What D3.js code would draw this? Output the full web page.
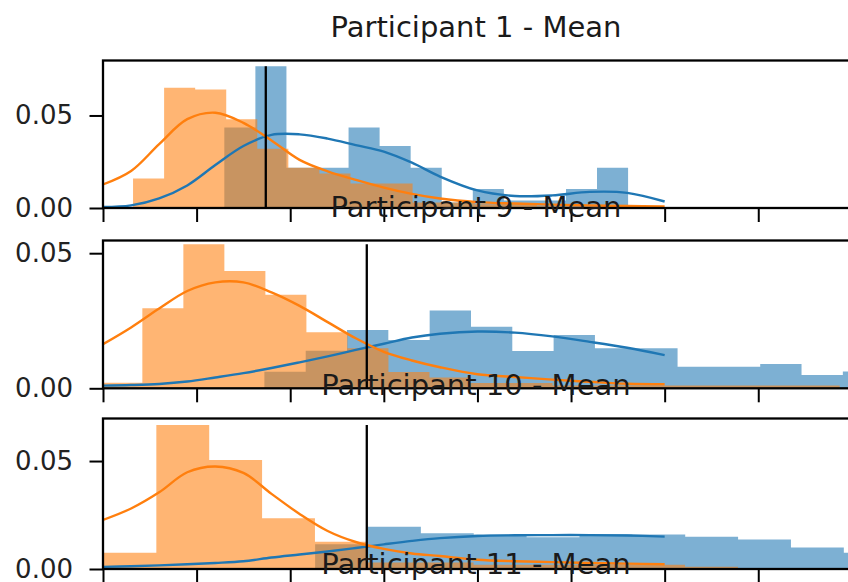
<!DOCTYPE html>
<html>
<head>
<meta charset="utf-8">
<script src="https://cdn.jsdelivr.net/npm/d3@7"></script>
<style>
  body { margin: 0; background: #fff; }
  svg { display: block; font-family: "DejaVu Sans", sans-serif; }
</style>
</head>
<body>
<div id="chart"></div>
<script>
// panel titles (the 4th belongs to the next row, which is cut off below)
var titles = ["Participant 1 - Mean", "Participant 9 - Mean", "Participant 10 - Mean", "Participant 11 - Mean"]

var xTicks = [0, 10, 20, 30, 40, 50, 60, 70]
var yTicks = [0, 0.05]
var yLimits = [0.0797, 0.0547, 0.0697]

// histograms: left edge of first bin, bin width, density per bin
var p1BlueStart = 12.96, p1BlueWidth = 3.318
var p1Blue = [0.0435, 0.0766, 0.0217, 0.0217, 0.0435, 0.0335, 0.0217, 0.003, 0.0102, 0.004, 0.004, 0.0102, 0.0217]
var p1OrangeStart = 3.21, p1OrangeWidth = 3.318
var p1Orange = [0.016, 0.065, 0.064, 0.048, 0.032, 0.0217, 0.0187, 0.0133, 0.0133, 0.003, 0.003, 0.002, 0.002, 0.001, 0.001, 0.001, 0.001]

var p2BlueStart = 17.24, p2BlueWidth = 4.414
var p2Blue = [0.0061, 0.0139, 0.0216, 0.0179, 0.0288, 0.0228, 0.0138, 0.0197, 0.0148, 0.0148, 0.008, 0.008, 0.009, 0.0049, 0.0062]
var p2OrangeStart = -0.18, p2OrangeWidth = 4.382
var p2Orange = [0.0021, 0.0296, 0.0533, 0.0434, 0.0346, 0.0207, 0.0148, 0.006, 0.004, 0.002, 0.002, 0.001, 0.001, 0.001, 0.001, 0.001, 0.001, 0.001]

var p3BlueStart = 22.66, p3BlueWidth = 5.648
var p3Blue = [0.0115, 0.0196, 0.0165, 0.016, 0.0147, 0.0161, 0.016, 0.0149, 0.0137, 0.0099, 0.0075]
var p3OrangeStart = 0.05, p3OrangeWidth = 5.648
var p3Orange = [0.0075, 0.0667, 0.0505, 0.0235, 0.0126, 0.003, 0.003, 0.002, 0.002, 0.002, 0.002, 0.001]

// kde curves, read at these x positions
var kdeX = [0, 3, 6, 9, 12, 15, 18, 21, 24, 27, 30, 33, 36, 40, 44, 48, 52, 56, 60]
var p1BlueKde = [0.0005, 0.0014, 0.0052, 0.0122, 0.0232, 0.0335, 0.0395, 0.0398, 0.0375, 0.034, 0.0305, 0.0245, 0.017, 0.0095, 0.0065, 0.0068, 0.0087, 0.0082, 0.0035]
var p1OrangeKde = [0.0127, 0.02, 0.0345, 0.048, 0.0515, 0.046, 0.0365, 0.026, 0.0198, 0.0152, 0.011, 0.0076, 0.0051, 0.0032, 0.0024, 0.0018, 0.0014, 0.0011, 0.0009]
var p2BlueKde = [0.001, 0.0012, 0.0016, 0.0025, 0.004, 0.0056, 0.0075, 0.0096, 0.0118, 0.0142, 0.0165, 0.0188, 0.0202, 0.021, 0.0206, 0.0192, 0.0172, 0.015, 0.0123]
var p2OrangeKde = [0.0163, 0.0225, 0.0295, 0.036, 0.0392, 0.0392, 0.0355, 0.0305, 0.0245, 0.0185, 0.0135, 0.0103, 0.0078, 0.0052, 0.0042, 0.0032, 0.0024, 0.0017, 0.0015]
var p3BlueKde = [0.001, 0.0013, 0.0017, 0.0022, 0.0028, 0.0036, 0.0053, 0.0067, 0.0081, 0.0097, 0.0114, 0.013, 0.0143, 0.0153, 0.0156, 0.0157, 0.0157, 0.0155, 0.015]
var p3OrangeKde = [0.0227, 0.028, 0.0355, 0.0448, 0.0475, 0.0445, 0.0348, 0.0255, 0.0176, 0.0125, 0.0093, 0.0072, 0.006, 0.0043, 0.0036, 0.0032, 0.0028, 0.0025, 0.0022]

// mean marker per panel
var means = [17.39, 28.18, 28.18]

var panels = [
  {blue: {start: p1BlueStart, width: p1BlueWidth, values: p1Blue}, orange: {start: p1OrangeStart, width: p1OrangeWidth, values: p1Orange}, blueKde: p1BlueKde, orangeKde: p1OrangeKde},
  {blue: {start: p2BlueStart, width: p2BlueWidth, values: p2Blue}, orange: {start: p2OrangeStart, width: p2OrangeWidth, values: p2Orange}, blueKde: p2BlueKde, orangeKde: p2OrangeKde},
  {blue: {start: p3BlueStart, width: p3BlueWidth, values: p3Blue}, orange: {start: p3OrangeStart, width: p3OrangeWidth, values: p3Orange}, blueKde: p3BlueKde, orangeKde: p3OrangeKde}
]

var width = 848, height = 582
var left = 103, right = 850
var tops = [60.5, 240.5, 418.5, 597.5]
var bottoms = [208, 388.3, 569]
var blue = "#1f77b4", orange = "#ff7f0e"

var svg = d3.select("#chart").append("svg")
    .attr("width", width)
    .attr("height", height)

var x = d3.scaleLinear().domain([0, 79.8]).range([left, right])

panels.forEach(function(p, k) {
  var y = d3.scaleLinear().domain([0, yLimits[k]]).range([bottoms[k], tops[k]])
  var g = svg.append("g")

  g.append("clipPath").attr("id", "clip" + k)
    .append("rect")
      .attr("x", left).attr("y", tops[k])
      .attr("width", right - left).attr("height", bottoms[k] - tops[k])

  var plot = g.append("g").attr("clip-path", "url(#clip" + k + ")")

  // bars as one stepped area per series (no seams between bins)
  var step = d3.area()
      .x(function(d) { return x(d[0]) })
      .y0(y(0))
      .y1(function(d) { return y(d[1]) })
      .curve(d3.curveStepAfter)

  ;[[p.blue, blue], [p.orange, orange]].forEach(function(s) {
    var h = s[0]
    var pts = h.values.map(function(v, i) { return [h.start + i * h.width, v] })
    pts.push([h.start + h.values.length * h.width, 0])
    plot.append("path").datum(pts)
        .attr("d", step)
        .attr("fill", s[1])
        .attr("fill-opacity", 0.58)
  })

  var line = d3.line()
      .x(function(d, i) { return x(kdeX[i]) })
      .y(function(d) { return y(d) })
      .curve(d3.curveCatmullRom.alpha(0.5))

  plot.append("path").datum(p.blueKde)
      .attr("d", line).attr("fill", "none")
      .attr("stroke", blue).attr("stroke-width", 2.4)
  plot.append("path").datum(p.orangeKde)
      .attr("d", line).attr("fill", "none")
      .attr("stroke", orange).attr("stroke-width", 2.4)

  // mean line, as tall as the highest bar
  var top = d3.max(p.blue.values.concat(p.orange.values))
  plot.append("line")
      .attr("x1", x(means[k])).attr("x2", x(means[k]))
      .attr("y1", y(0)).attr("y2", y(top))
      .attr("stroke", "#000").attr("stroke-width", 2.3)

  // axes
  var yAxis = g.append("g")
      .attr("transform", "translate(" + left + ",0)")
      .call(d3.axisLeft(y).tickValues(yTicks).tickFormat(d3.format(".2f")).tickSize(13.5).tickPadding(16.5))
  yAxis.select(".domain").remove()
  yAxis.selectAll("line").attr("stroke", "#000").attr("stroke-width", 2)
  yAxis.selectAll("text")
      .attr("font-size", "26px")
      .attr("font-family", "DejaVu Sans")
      .attr("fill", "#222")

  var xAxis = g.append("g")
      .attr("transform", "translate(0," + bottoms[k] + ")")
      .call(d3.axisBottom(x).tickValues(xTicks).tickFormat("").tickSize(14))
  xAxis.select(".domain").remove()
  xAxis.selectAll("line").attr("stroke", "#000").attr("stroke-width", 2)

  g.append("rect")
      .attr("x", left).attr("y", tops[k])
      .attr("width", right - left).attr("height", bottoms[k] - tops[k])
      .attr("fill", "none").attr("stroke", "#000").attr("stroke-width", 2.3)

  g.append("text")
      .attr("x", (left + right) / 2 - 0.5)
      .attr("y", tops[k] - 23.2)
      .attr("text-anchor", "middle")
      .attr("font-size", "29px")
      .attr("fill", "#1a1a1a")
      .text(titles[k])
})

// title of the next, cut-off row
svg.append("text")
    .attr("x", (left + right) / 2 - 0.5)
    .attr("y", tops[3] - 23.2)
    .attr("text-anchor", "middle")
    .attr("font-size", "29px")
    .attr("fill", "#1a1a1a")
    .text(titles[3])
</script>
</body>
</html>
